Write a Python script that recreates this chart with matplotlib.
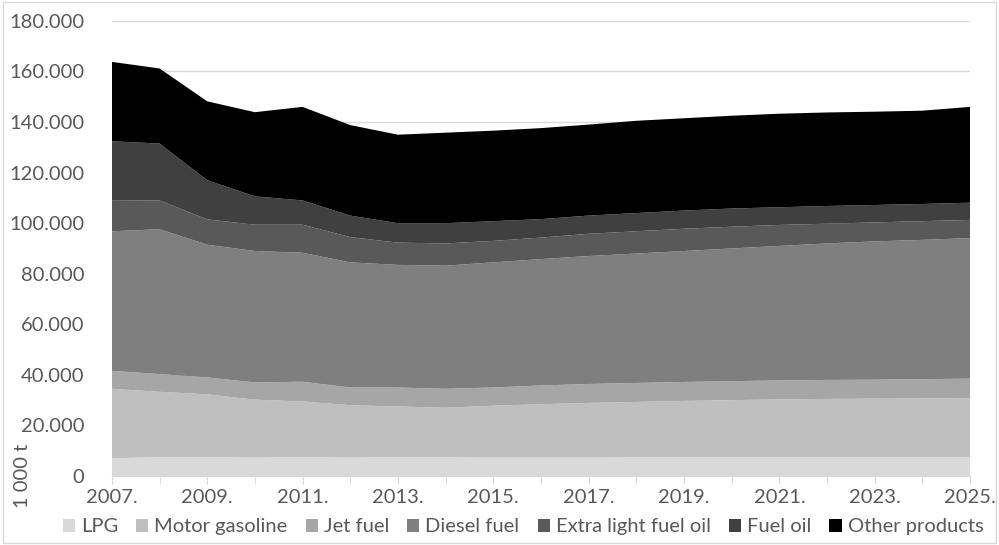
import matplotlib.pyplot as plt
import matplotlib.ticker as mticker
import numpy as np

plt.rcParams['font.family'] = ['Lato', 'DejaVu Sans']

years = np.arange(2007, 2026)
labels = ['LPG', 'Motor gasoline', 'Jet fuel', 'Diesel fuel',
          'Extra light fuel oil', 'Fuel oil', 'Other products']

# vrijednosti u 1 000 t
lpg = [7000, 7500, 7500, 7300, 7500, 7300, 7500, 7400, 7300, 7300,
       7300, 7400, 7400, 7400, 7400, 7400, 7400, 7400, 7400]
motor_gasoline = [27500, 25800, 24800, 22900, 22000, 20700, 20000, 19600, 20500, 21100,
                  21600, 21900, 22300, 22600, 22900, 23100, 23200, 23300, 23400]
jet_fuel = [7100, 7000, 6700, 6800, 7800, 7000, 7500, 7500, 7200, 7400,
            7500, 7500, 7500, 7500, 7500, 7500, 7500, 7600, 7700]
diesel_fuel = [55200, 57300, 52500, 52000, 51000, 49500, 48500, 48700, 49500, 50000,
               50600, 51200, 51800, 52500, 53200, 54000, 54700, 55100, 55600]
extra_light = [12100, 11400, 10000, 10400, 11100, 10000, 8800, 8800, 8500, 8500,
               8800, 8800, 8800, 8600, 8300, 7800, 7500, 7400, 7200]
fuel_oil = [23500, 22500, 15500, 11200, 9600, 8500, 7700, 8000, 7800, 7300,
            7200, 7200, 7200, 7200, 7000, 7000, 6900, 6800, 6800]
other_products = [31400, 29700, 31200, 33300, 37000, 35800, 35000, 35800, 35800, 36000,
                  36000, 36500, 36500, 36700, 37000, 37000, 36900, 36900, 37900]

colors = ['#d9d9d9', '#bfbfbf', '#a6a6a6', '#7f7f7f', '#595959', '#404040', '#000000']

fig = plt.figure(figsize=(9.99, 5.45), dpi=100)
ax = fig.add_axes([0.112, 0.1266, 0.859, 0.835])

ax.stackplot(years, lpg, motor_gasoline, jet_fuel, diesel_fuel, extra_light,
             fuel_oil, other_products, labels=labels, colors=colors, linewidth=0)

ax.set_xlim(2007, 2025)
ax.set_ylim(0, 180000)
ax.set_yticks(np.arange(0, 180001, 20000))
ax.yaxis.set_major_formatter(mticker.FuncFormatter(lambda v, p: '0' if v == 0 else f'{int(v):,}'.replace(',', '.')))
ax.set_xticks(years[::2])
ax.set_xticklabels([f'{y}.' for y in years[::2]])
ax.set_xticks(years, minor=True)

ax.grid(axis='y', color='#d9d9d9', linewidth=1)
ax.set_axisbelow(True)
for s in ['top', 'right', 'left']:
    ax.spines[s].set_visible(False)
ax.spines['bottom'].set_color('#d9d9d9')
ax.tick_params(axis='y', length=0, pad=20, labelsize=14.5, labelcolor='#595959')
ax.tick_params(axis='x', which='both', length=6, color='#d9d9d9', labelsize=14.5,
               labelcolor='#595959', pad=3)

fig.text(0.014, 0.127, '1 000 t', rotation=90, ha='left', va='center',
         fontsize=14.5, color='#595959')

ax.legend(loc='center', bbox_to_anchor=(0.479, -0.112), ncol=7, frameon=False,
          fontsize=14.5, labelcolor='#595959', handlelength=0.6, handleheight=0.6,
          handletextpad=0.3, columnspacing=0.9)

fig.patches.append(plt.Rectangle((0.003, 0.003), 0.994, 0.994, transform=fig.transFigure,
                                 fill=False, edgecolor='#d9d9d9', linewidth=1))

fig.savefig('out.png', dpi=100)
